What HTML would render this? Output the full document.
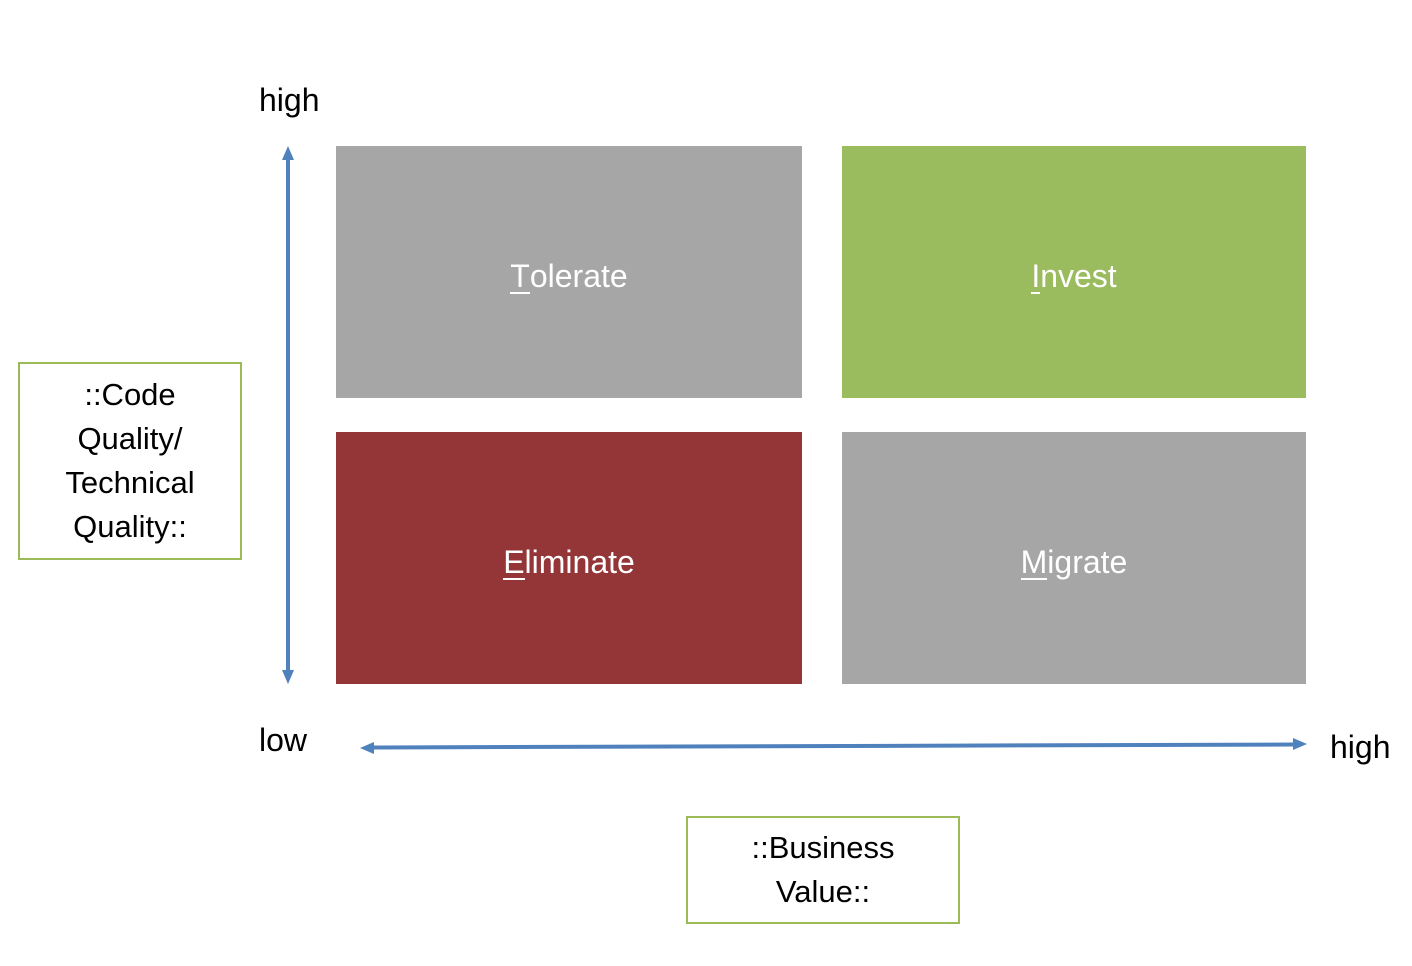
<!DOCTYPE html>
<html><head><style>
body{margin:0;width:1412px;height:966px;background:#fff;position:relative;font-family:"Liberation Sans",sans-serif;overflow:hidden}
.t{position:absolute;color:#000;font-size:32px;white-space:nowrap}
.q{position:absolute;display:flex;align-items:center;justify-content:center;color:#fff;font-size:32px}
.q span{position:relative;top:4px}
.q u{text-decoration:none;border-bottom:2px solid #fff;display:inline-block;line-height:1}
.b{position:absolute;border:2px solid #9bbb59;box-sizing:border-box;display:flex;align-items:center;justify-content:center;text-align:center;font-size:31px;line-height:44px;color:#000}
</style></head><body>
<div class="t" style="left:259px;top:82px">high</div>
<div class="t" style="left:259px;top:722px">low</div>
<div class="t" style="left:1330px;top:729px">high</div>

<div class="q" style="left:336px;top:146px;width:466px;height:252px;background:#a6a6a6"><span><u>T</u>olerate</span></div>
<div class="q" style="left:842px;top:146px;width:464px;height:252px;background:#9bbb5f"><span><u>I</u>nvest</span></div>
<div class="q" style="left:336px;top:432px;width:466px;height:252px;background:#943638"><span><u>E</u>liminate</span></div>
<div class="q" style="left:842px;top:432px;width:464px;height:252px;background:#a6a6a6"><span><u>M</u>igrate</span></div>

<div class="b" style="left:18px;top:362px;width:224px;height:198px">::Code<br>Quality/<br>Technical<br>Quality::</div>
<div class="b" style="left:686px;top:816px;width:274px;height:108px">::Business<br>Value::</div>

<svg style="position:absolute;left:0;top:0" width="1412" height="966">
<g stroke="#4f81bd" stroke-width="4" fill="#4f81bd">
<line x1="288" y1="158" x2="288" y2="672"/>
<line x1="372" y1="747.5" x2="1294" y2="744.5"/>
</g>
<g fill="#4f81bd">
<polygon points="288,146 282,160 294,160"/>
<polygon points="288,684 282,670 294,670"/>
<polygon points="360,748 374,742 374,754"/>
<polygon points="1307,744 1293,738 1293,750"/>
</g>
</svg>
</body></html>
